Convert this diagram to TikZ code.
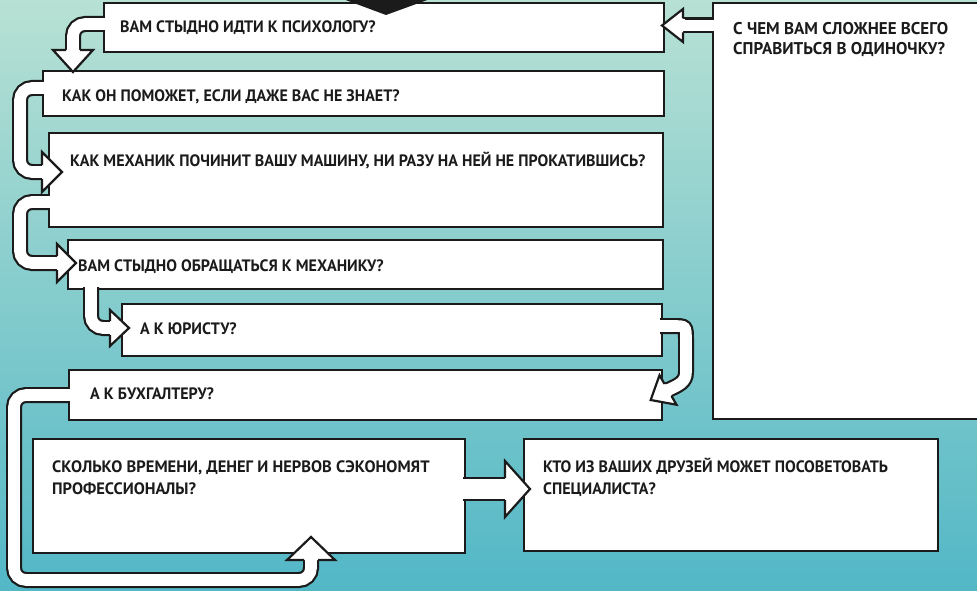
\documentclass[tikz,border=0pt]{standalone}
\usepackage{fontspec}
\setmainfont{PT Sans}[FakeStretch=0.97]
\newfontfamily\widefont{PT Sans}[FakeStretch=1.0]
\usetikzlibrary{calc}
\definecolor{ink}{HTML}{1B1B1B}
\definecolor{bgtop}{HTML}{B8E1D4}
\definecolor{bgbot}{HTML}{52B7C6}
% arrow head of a tube: base centre x, y, angle, half width, length, tube inner half width
\newcommand\tubehead[6]{%
  \begin{scope}[shift={(#1,#2)}, rotate=#3]
    \fill[white] (0,-#4) -- (#5,0) -- (0,#4) -- cycle;
    \fill[white] (-1.5,-#6) rectangle (0.5,#6);
    \draw[ink, line width=2.2pt, line join=miter] (0,-#6-1) -- (0,-#4) -- (#5,0) -- (0,#4) -- (0,#6+1);
  \end{scope}}
\begin{document}
\begin{tikzpicture}[x=1pt,y=-1pt,
  panel/.style={draw=ink, fill=white, line width=2.2pt, inner sep=0pt, anchor=north west},
  txt/.style={font=\bfseries\fontsize{16.5}{22}\selectfont, text=ink, inner sep=0pt, align=left, anchor=base west},
  tubeB/.style={draw=ink, line width=16pt, rounded corners=12pt},
  tubeW/.style={draw=white, line width=11.6pt, rounded corners=12pt, shorten <=-2pt},
  wideB/.style={draw=ink, line width=24pt},
  wideW/.style={draw=white, line width=19.6pt, shorten <=-2pt}]
\useasboundingbox (0,0) rectangle (977,591);
\clip (0,0) rectangle (977,591);
\shade[top color=bgtop, bottom color=bgbot] (-2,-2) rectangle (979,593);

% panels
\node[panel, minimum width=560pt, minimum height=49pt] (b1) at (103,2) {};
\node[panel, minimum width=621pt, minimum height=45pt] (b2) at (42,70) {};
\node[panel, minimum width=614pt, minimum height=94pt] (b3) at (48,132) {};
\node[panel, minimum width=595pt, minimum height=49pt] (b4) at (67,239) {};
\node[panel, minimum width=540pt, minimum height=52pt] (b5) at (121,303) {};
\node[panel, minimum width=593pt, minimum height=50pt] (b6) at (68,369) {};
\node[panel, minimum width=432pt, minimum height=114pt] (b7) at (32,438) {};
\node[panel, minimum width=414pt, minimum height=112pt] (b8) at (523,438) {};
\node[panel, minimum width=280pt, minimum height=416pt] (b9) at (712,2) {};

% tube end points
\coordinate (s1) at (713,25.5);  \coordinate (e1) at (683,25.5);
\coordinate (s2) at (104,24);    \coordinate (e2) at (73,50);
\coordinate (s3) at (43,88);     \coordinate (e3) at (42,172);
\coordinate (s4) at (49,202);    \coordinate (e4) at (57,263);
\coordinate (s5) at (91,287);    \coordinate (e5) at (110,328);
\coordinate (s6) at (660,326);   \coordinate (e6) at (668,390);
\coordinate (s7) at (69,395);    \coordinate (e7) at (311,560);
\coordinate (s8) at (463,489);   \coordinate (e8) at (505,489);

% tubes
\foreach \st in {tubeB,tubeW}{
  \draw[\st] (s1) -- (e1);
  \draw[\st] (s2) -| (e2);
  \draw[\st] (s3) -| (20,172) -- (e3);
  \draw[\st] (s4) -| (20,263) -- (e4);
  \draw[\st] (s5) |- (e5);
  \draw[\st, rounded corners=0pt] (s6) -- (673,326) .. controls (686,326) and (686,326) .. (686,340)
        -- (686,372) .. controls (686,382) and (679,385) .. (e6);
  \draw[\st] (s7) -| (14,580) -| (e7);
}
\draw[wideB] (s8) -- (e8);
\draw[wideW] (s8) -- (e8);

% heads
\tubehead{683}{25.5}{180}{16.5}{21}{6}
\tubehead{73}{50}{270}{20}{22}{6}
\tubehead{42}{172}{0}{20}{20}{6}
\tubehead{57}{263}{0}{19}{19}{6}
\tubehead{110}{328}{0}{18}{19}{6}
\tubehead{668}{390}{210}{17}{20}{6}
\tubehead{311}{560}{90}{24}{23}{6}
\tubehead{505}{489}{0}{28}{25}{10}

% arrow tip from above
\fill[ink] (343,-1) -- (430,-1) -- (386,15) -- cycle;

% texts
\node[txt] (q1) at (120,33) {ВАМ СТЫДНО ИДТИ К ПСИХОЛОГУ?};
\node[txt] (q2) at (62,102) {КАК ОН ПОМОЖЕТ, ЕСЛИ ДАЖЕ ВАС НЕ ЗНАЕТ?};
\node[txt] (q3) at (70,166) {КАК МЕХАНИК ПОЧИНИТ ВАШУ МАШИНУ, НИ РАЗУ НА НЕЙ НЕ ПРОКАТИВШИСЬ?};
\node[txt] (q4) at (78,271) {ВАМ СТЫДНО ОБРАЩАТЬСЯ К МЕХАНИКУ?};
\node[txt] (q5) at (140,334) {А К ЮРИСТУ?};
\node[txt] (q6) at (90,399) {А К БУХГАЛТЕРУ?};
\node[txt, font=\widefont\bfseries\fontsize{16.5}{22}\selectfont] (q7) at (52,494) {СКОЛЬКО ВРЕМЕНИ, ДЕНЕГ И НЕРВОВ СЭКОНОМЯТ\\ПРОФЕССИОНАЛЫ?};
\node[txt] (q8) at (543,494) {КТО ИЗ ВАШИХ ДРУЗЕЙ МОЖЕТ ПОСОВЕТОВАТЬ\\СПЕЦИАЛИСТА?};
\node[txt, font=\widefont\bfseries\fontsize{17}{20.5}\selectfont] (q9) at (733,55) {С ЧЕМ ВАМ СЛОЖНЕЕ ВСЕГО\\СПРАВИТЬСЯ В ОДИНОЧКУ?};
\end{tikzpicture}
\end{document}
